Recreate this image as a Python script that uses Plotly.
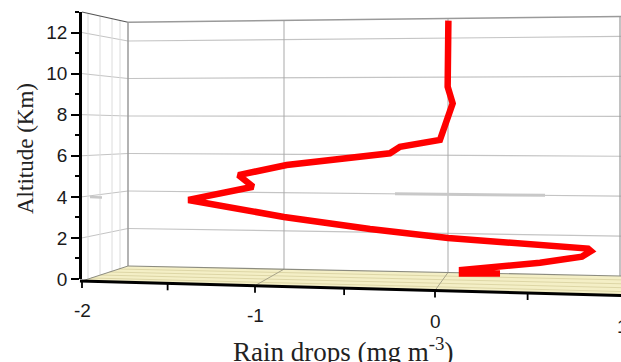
import plotly.graph_objects as go

# ---------------- data ----------------
rain_drops = [0.043, 0.039, 0.067, -0.004, -0.227, -0.283, -0.859, -1.128, -1.046,
              -1.407, -0.874, -0.394, 0.041, 0.442, 0.822, 0.838, 0.788, 0.554,
              0.331, 0.119, 0.119, 0.331]
altitude_km = [12.58, 9.36, 8.55, 6.77, 6.44, 6.12, 5.55, 5.06, 4.49,
               3.85, 3.02, 2.43, 2.00, 1.70, 1.48, 1.36, 1.09, 0.79,
               0.57, 0.44, 0.27, 0.27]
x_tick_values = [-2, -1, 0, 1]
x_tick_labels = ["-2", "-1", "0", "1"]
y_tick_values = [0, 2, 4, 6, 8, 10, 12]
y_tick_labels = ["0", "2", "4", "6", "8", "10", "12"]

# ---------------- layout geometry (pixels) ----------------
W, H = 621, 362
L, R, T, B = 82, 620, 12, 279          # plot area in pixels
PW, PH = R - L, B - T


def P(px, py):
    return (px - L) / PW, (B - py) / PH


shapes = []


def seg(p1, p2, color, width=1.0):
    x0, y0 = P(*p1)
    x1, y1 = P(*p2)
    shapes.append(dict(type="line", xref="paper", yref="paper", x0=x0, y0=y0,
                       x1=x1, y1=y1, line=dict(color=color, width=width),
                       layer="below"))


def poly(pts, fill, line_color="rgba(0,0,0,0)", width=0):
    d = ""
    for i, (px, py) in enumerate(pts):
        x, y = P(px, py)
        d += ("M" if i == 0 else "L") + f"{x:.5f},{y:.5f} "
    d += "Z"
    shapes.append(dict(type="path", xref="paper", yref="paper", path=d,
                       fillcolor=fill, line=dict(color=line_color, width=width),
                       layer="below"))


def lerp(a, b, t):
    return a + (b - a) * t


# perspective box: back wall from x=128 to 620
BXL, BXR = 128, 620


def back_y(x, alt):
    t = (x - BXL) / (BXR - BXL)
    return lerp(266 - alt * 18.75, 276 - alt * 19.96, t)


def front_y_left(alt):
    return 279 - alt * 20.54


def front_edge_y(x):
    return 281 + (x - 82) / 539 * 14.5


def front_x(v):
    u = v + 2
    return 82 + 169.5 * u + 3.5 * u * u


TOP = 13.0
GRID = "#c4c4c4"
EDGE = "#9a9a9a"

# floor
poly([(82, 281), (BXL, back_y(BXL, 0)), (BXR, back_y(BXR, 0)), (622, back_y(BXR, 0)),
      (622, front_edge_y(622)), (82, 281)], "#f4efc6")
for f in [0.2, 0.4, 0.6, 0.8]:
    pl = (lerp(82, BXL, f), lerp(281, back_y(BXL, 0), f))
    pr = (BXR, lerp(front_edge_y(BXR), back_y(BXR, 0), f))
    seg(pl, (622, pr[1]), "#ddd6a6", 1)
for bx, fv in [(284, -1), (448, 0)]:
    fx = front_x(fv)
    seg((bx, back_y(bx, 0)), (fx, front_edge_y(fx)), "#a8a48a", 1)

# left wall gridlines
for alt in range(1, 14):
    if alt % 2 == 0:
        seg((82, front_y_left(alt)), (BXL, back_y(BXL, alt)), GRID, 1)
for wx in [88, 100, 112, 120]:
    t = (wx - 82) / (BXL - 82)
    ytop = lerp(front_y_left(TOP), back_y(BXL, TOP), t)
    ybot = lerp(281, back_y(BXL, 0), t)
    seg((wx, ytop), (wx, ybot), "#dcdcdc", 1)

# back wall gridlines
for alt in [2, 4, 6, 8, 10, 12]:
    seg((BXL, back_y(BXL, alt)), (622, back_y(622, alt)), GRID, 1.2)
for bx in [284, 448]:
    seg((bx, back_y(bx, TOP)), (bx, back_y(bx, 0)), "#a9a9a9", 1)
# smudges
seg((395, back_y(395, 4)), (545, back_y(545, 4)), "#c8c8c8", 3)
seg((90, 197), (102, 197.5), "#c8c8c8", 2.5)

# edges
seg((82, front_y_left(TOP)), (BXL, back_y(BXL, TOP)), "#555555", 1.2)
seg((BXL, back_y(BXL, TOP)), (622, back_y(622, TOP)), EDGE, 1.5)
seg((BXL, back_y(BXL, TOP)), (BXL, back_y(BXL, 0)), EDGE, 1.5)
seg((BXR, back_y(BXR, TOP)), (BXR, back_y(BXR, 0)), EDGE, 1.2)
seg((BXL, back_y(BXL, 0)), (622, back_y(622, 0)), "#8c8c80", 1.2)
seg((82, 281), (BXL, back_y(BXL, 0)), "#8c8c80", 1)

# front x-axis line and ticks
seg((80, 281), (622, front_edge_y(622)), "#000000", 3)
for i in range(7):
    v = -2 + i * 0.5
    fx = front_x(v)
    fy = front_edge_y(fx)
    seg((fx, fy), (fx, fy + 7), "#000000", 1.8)

annotations = []
for v, lab in zip(x_tick_values, x_tick_labels):
    fx = front_x(v)
    ly = 310 + (fx - 81) * (11 / 353)
    xp, yp = P(fx, ly)
    annotations.append(dict(x=xp, y=yp, xref="paper", yref="paper", text=lab,
                            showarrow=False, xanchor="center", yanchor="middle",
                            font=dict(family="Liberation Sans, Arial", size=19,
                                      color="#1a1a1a")))
xp, yp = P(343, 350)
annotations.append(dict(x=xp, y=yp, xref="paper", yref="paper",
                        text="Rain drops (mg m<sup>-3</sup>)", showarrow=False,
                        xanchor="center", yanchor="middle",
                        font=dict(family="Liberation Serif, Times New Roman", size=27,
                                  color="#222222")))
xp, yp = P(26, 149)
annotations.append(dict(x=xp, y=yp, xref="paper", yref="paper",
                        text="Altitude (Km)", showarrow=False, textangle=-90,
                        xanchor="center", yanchor="middle",
                        font=dict(family="Liberation Serif, Times New Roman", size=23,
                                  color="#222222")))

fig = go.Figure()
fig.add_trace(go.Scatter(x=rain_drops, y=altitude_km, mode="lines",
                         line=dict(color="#ff0000", width=6.5), cliponaxis=False,
                         hoverinfo="skip"))

fig.update_layout(
    width=W, height=H,
    margin=dict(l=L, r=W - R, t=T, b=H - B, pad=0, autoexpand=False),
    paper_bgcolor="white", plot_bgcolor="white",
    showlegend=False,
    shapes=shapes, annotations=annotations,
    xaxis=dict(range=[-2, 1], showgrid=False, zeroline=False, showline=False,
               showticklabels=False, ticks="", fixedrange=True, automargin=False),
    yaxis=dict(range=[0, TOP], showgrid=False, zeroline=False, automargin=False,
               showline=True, linecolor="black", linewidth=2.5,
               tickmode="array", tickvals=y_tick_values, ticktext=y_tick_labels,
               ticks="outside", ticklen=8, tickwidth=2, tickcolor="black",
               minor=dict(dtick=1, ticks="outside", ticklen=4, tickwidth=1.5,
                          tickcolor="black"),
               tickfont=dict(family="Liberation Sans, Arial", size=19, color="#1a1a1a")),
)

fig.write_html("out.html", config={"displayModeBar": False},
               post_script="document.body.style.margin='0px';"
                           "document.body.style.overflow='hidden';")
